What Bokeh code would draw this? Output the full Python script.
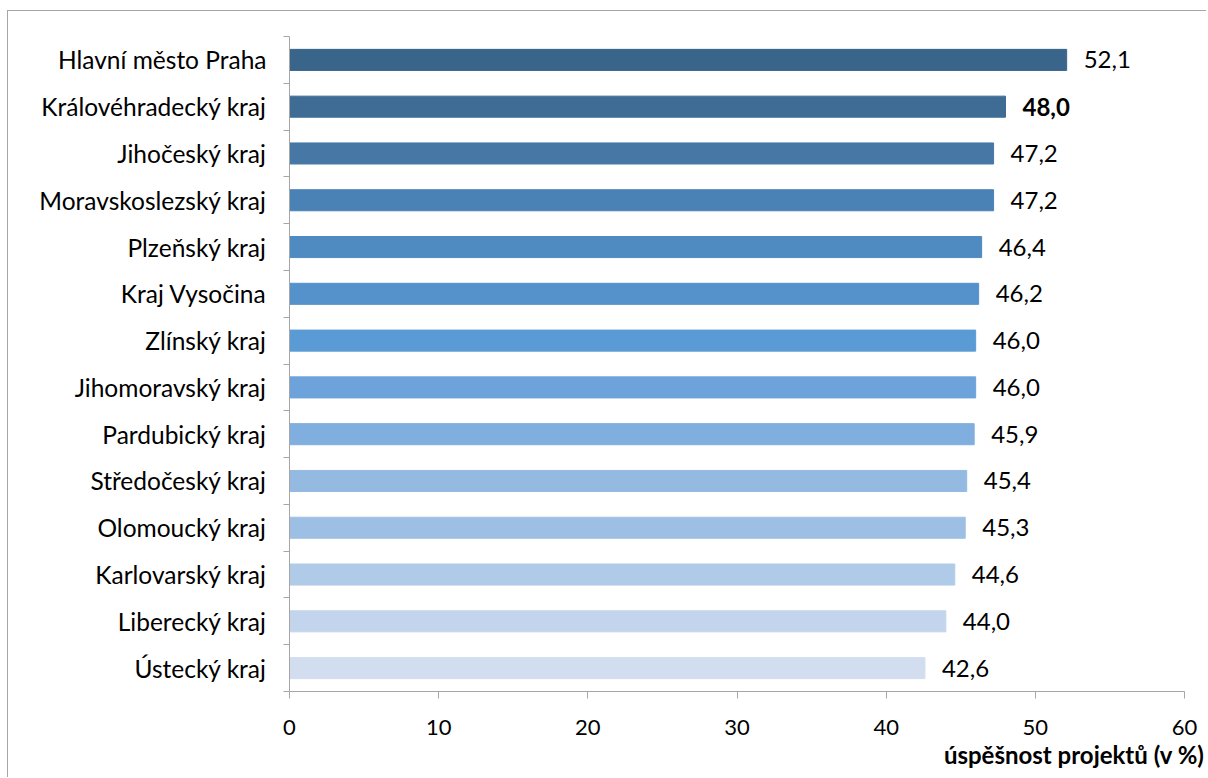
from bokeh.plotting import figure
from bokeh.models import (Range1d, LinearAxis, FixedTicker, ColumnDataSource,
                          Title)
from bokeh.embed import file_html
from bokeh.resources import INLINE
from bokeh.core.properties import value

# ---- data ----
regions = ["Hlavní město Praha", "Královéhradecký kraj", "Jihočeský kraj",
           "Moravskoslezský kraj", "Plzeňský kraj", "Kraj Vysočina",
           "Zlínský kraj", "Jihomoravský kraj", "Pardubický kraj",
           "Středočeský kraj", "Olomoucký kraj", "Karlovarský kraj",
           "Liberecký kraj", "Ústecký kraj"]
success = [52.1, 48.0, 47.2, 47.2, 46.4, 46.2, 46.0, 46.0, 45.9, 45.4, 45.3,
           44.6, 44.0, 42.6]
highlight = "Královéhradecký kraj"
bar_colors = ["#386589", "#3E6C95", "#4677A5", "#4A82B5", "#4F8AC0",
              "#5591CA", "#5B9BD5", "#6DA3DA", "#80AEDF", "#94BAE2",
              "#9EBFE4", "#B0CBE8", "#C3D5EC", "#D2DEEF"]
x_ticks = [0, 10, 20, 30, 40, 50, 60]
x_title = "úspěšnost projektů (v %)"

FONT = "Lato"
GREY = "#a6a6a6"

n = len(regions)
slot = [n - 1 - i + 0.5 for i in range(n)]          # slot centre, top = first
labels = [f"{v:.1f}".replace(".", ",") for v in success]
styles = ["bold" if r == highlight else "normal" for r in regions]
src = ColumnDataSource(dict(slot=slot, val=success, col=bar_colors,
                            lab=labels, sty=styles))

p = figure(width=1199, height=767, output_backend="svg", toolbar_location=None,
           y_range=Range1d(0, n), x_range=Range1d(0, 60),
           x_axis_location=None, y_axis_location=None,
           min_border_left=281, min_border_right=23,
           min_border_top=25, min_border_bottom=87)
p.outline_line_color = None
p.xgrid.visible = False
p.ygrid.visible = False
p.background_fill_color = "white"
p.border_fill_color = "white"
p.styles = {"border-left": f"1px solid {GREY}", "border-top": f"1px solid {GREY}",
            "margin-left": "7px", "margin-top": "10px"}

p.hbar(y="slot", right="val", left=0, height=0.45, color="col", source=src)
p.text(x="val", y="slot", text="lab", source=src, x_offset=17,
       text_baseline="middle", text_align="left",
       text_font=value(FONT), text_font_size="24px", text_color="#000000",
       text_font_style="sty")

y_axis = LinearAxis(ticker=FixedTicker(ticks=slot,
                                       minor_ticks=list(range(n + 1))),
                    major_label_overrides={s: r for s, r in zip(slot, regions)},
                    axis_line_color=GREY,
                    major_tick_line_color=None,
                    minor_tick_line_color=GREY,
                    minor_tick_out=6, minor_tick_in=0,
                    major_tick_out=6, major_tick_in=0,
                    major_label_standoff=17,
                    major_label_text_font=FONT,
                    major_label_text_font_size="24.5px",
                    major_label_text_color="#000000")
p.add_layout(y_axis, "left")

x_axis = LinearAxis(ticker=FixedTicker(ticks=x_ticks),
                    axis_line_color=GREY, major_tick_line_color=GREY,
                    major_tick_out=7, major_tick_in=0,
                    minor_tick_line_color=None,
                    major_label_standoff=21,
                    major_label_text_font=FONT,
                    major_label_text_font_size="22px",
                    major_label_text_color="#000000")
p.add_layout(x_axis, "below")

p.add_layout(Title(text=x_title, align="right", offset=-20, standoff=0,
                   text_font=FONT, text_font_size="24px",
                   text_font_style="bold", text_color="#000000"), "below")

open("out.html", "w").write(file_html(p, INLINE))
